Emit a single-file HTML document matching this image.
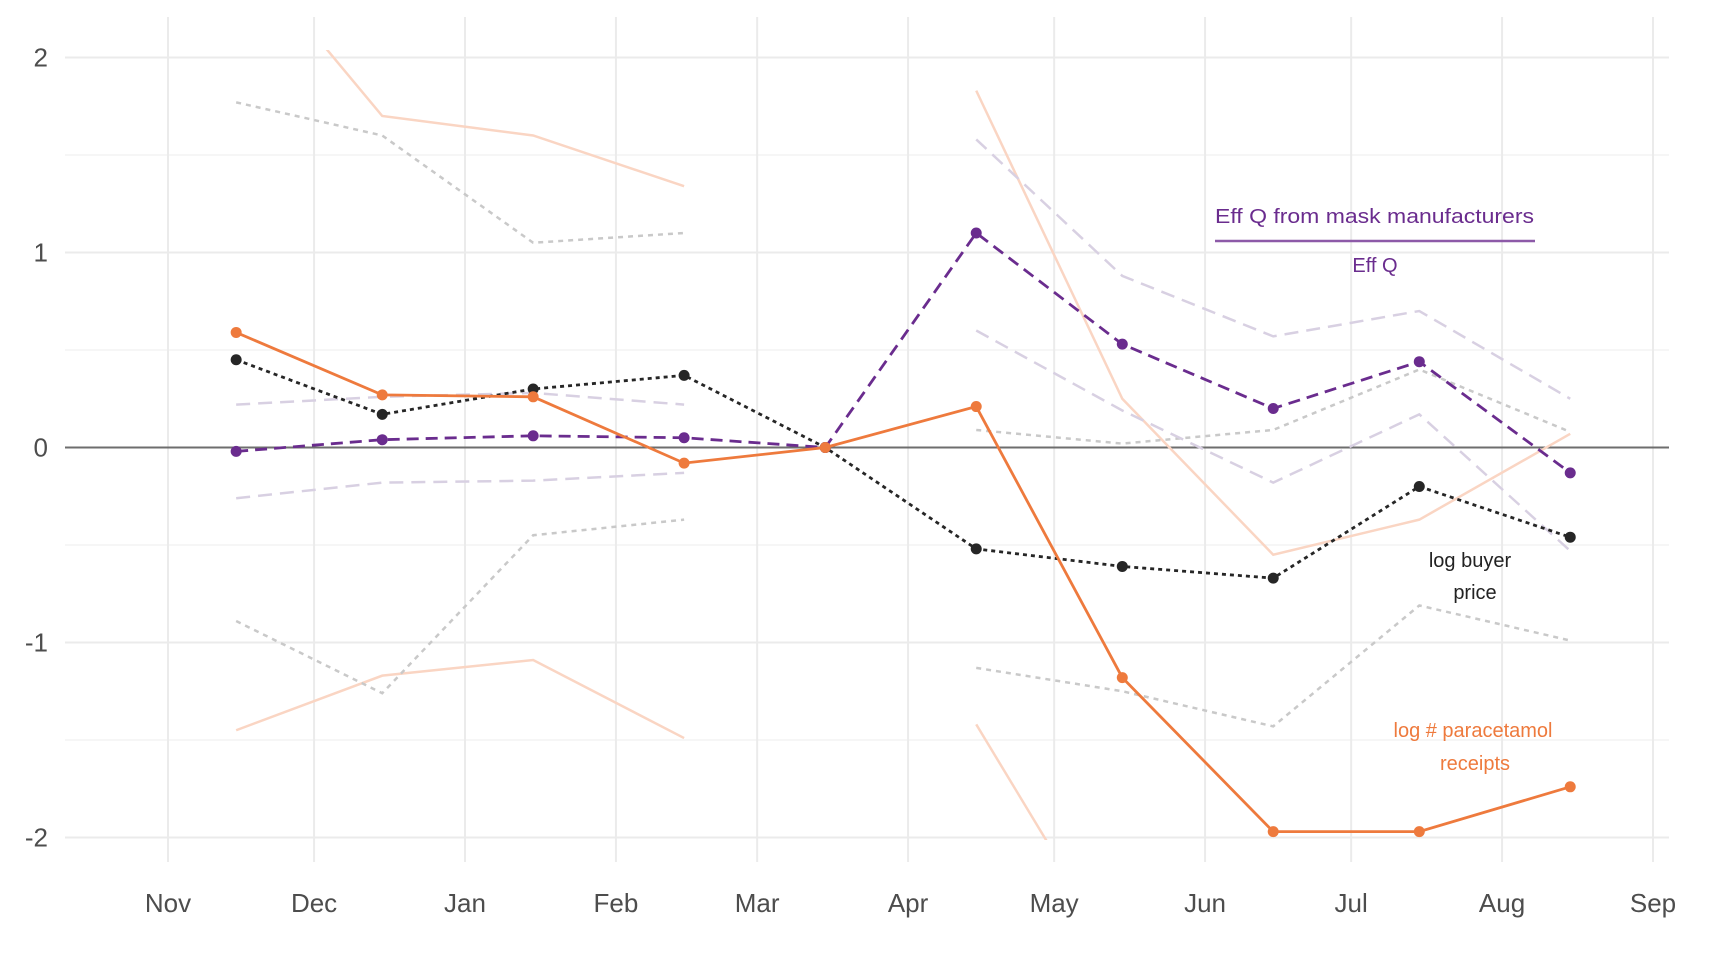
<!DOCTYPE html>
<html><head><meta charset="utf-8"><style>
html,body{margin:0;padding:0;background:#fff;overflow:hidden;width:1727px;height:960px;}
svg{display:block;font-family:"Liberation Sans",sans-serif;}
</style></head><body>
<svg id="chart" width="1727" height="960" viewBox="0 0 1727 960" xmlns="http://www.w3.org/2000/svg">
<defs><clipPath id="plotclip"><rect x="60" y="50" width="1640" height="790"/></clipPath></defs>
<g id="grid"></g>
<g id="axes"></g>
<g id="bands" clip-path="url(#plotclip)"></g>
<g id="series"></g>
<g id="annot">
<text x="1215" y="223" font-size="20" fill="#6a2c8e" textLength="319" lengthAdjust="spacingAndGlyphs">Eff Q from mask manufacturers</text>
<line x1="1215" y1="241" x2="1535" y2="241" stroke="#8d5aa8" stroke-width="2.5"/>
<text x="1375" y="272" font-size="20" fill="#6a2c8e" text-anchor="middle">Eff Q</text>
<text x="1470" y="567" font-size="20" fill="#222" text-anchor="middle">log buyer</text>
<text x="1475" y="599" font-size="20" fill="#222" text-anchor="middle">price</text>
<text x="1473" y="737" font-size="20" fill="#ee7a3d" text-anchor="middle">log # paracetamol</text>
<text x="1475" y="770" font-size="20" fill="#ee7a3d" text-anchor="middle">receipts</text>
</g>
</svg>
<script>
const monthLabels = ["Nov","Dec","Jan","Feb","Mar","Apr","May","Jun","Jul","Aug","Sep"];
const monthDates = ["2019-11-01","2019-12-01","2020-01-01","2020-02-01","2020-03-01","2020-04-01","2020-05-01","2020-06-01","2020-07-01","2020-08-01","2020-09-01"];
const pointDates = ["2019-11-15","2019-12-15","2020-01-15","2020-02-15","2020-03-15","2020-04-15","2020-05-15","2020-06-15","2020-07-15","2020-08-15"];
const yTicks = [2,1,0,-1,-2];
const yMinor = [1.5,0.5,-0.5,-1.5];
const paracetamol = [0.59,0.27,0.26,-0.08,0.0,0.21,-1.18,-1.97,-1.97,-1.74];
const buyerPrice = [0.45,0.17,0.30,0.37,0.0,-0.52,-0.61,-0.67,-0.20,-0.46];
const effQ = [-0.02,0.04,0.06,0.05,0.0,1.10,0.53,0.20,0.44,-0.13];
const paraUpper = [2.6,1.70,1.60,1.34,null,1.83,0.25,-0.55,-0.37,0.07];
const paraLower = [-1.45,-1.17,-1.09,-1.49,null,-1.42,-2.66,-3.5,-3.5,-3.0];
const priceUpper = [1.77,1.60,1.05,1.10,null,0.09,0.02,0.09,0.40,0.08];
const priceLower = [-0.89,-1.26,-0.45,-0.37,null,-1.13,-1.25,-1.43,-0.81,-0.99];
const effUpper = [0.22,0.26,0.28,0.22,null,1.58,0.88,0.57,0.70,0.25];
const effLower = [-0.26,-0.18,-0.17,-0.13,null,0.60,0.19,-0.18,0.17,-0.53];

const NS="http://www.w3.org/2000/svg";
const t0=Date.parse(monthDates[0]), t1=Date.parse(monthDates[monthDates.length-1]);
const X0=168, X1=1653;
function x(d){return X0+(Date.parse(d)-t0)/(t1-t0)*(X1-X0);}
function y(v){return 447.5-195*v;}
function mk(tag,attrs,parent){const e=document.createElementNS(NS,tag);for(const k in attrs)e.setAttribute(k,attrs[k]);parent.appendChild(e);return e;}
const grid=document.getElementById('grid'),axes=document.getElementById('axes'),bands=document.getElementById('bands'),series=document.getElementById('series');

yMinor.forEach(v=>{const l=mk('line',{x1:65,x2:1669,y1:y(v),y2:y(v),stroke:'#f3f3f3','stroke-width':1.5},grid);

});
yTicks.forEach(v=>{const l=mk('line',{x1:65,x2:1669,y1:y(v),y2:y(v),stroke:'#ebebeb','stroke-width':2},grid);


const t=mk('text',{x:48,y:y(v)+9,'font-size':26,fill:'#4d4d4d','text-anchor':'end'},axes);


t.textContent=String(v);});
monthDates.forEach((d,i)=>{const l=mk('line',{x1:x(d),x2:x(d),y1:17,y2:862,stroke:'#ebebeb','stroke-width':2},grid);


const t=mk('text',{x:x(d),y:912,'font-size':26,fill:'#4d4d4d','text-anchor':'middle'},axes);


t.textContent=monthLabels[i];});
const zl=mk('line',{x1:65,x2:1669,y1:y(0),y2:y(0),stroke:'#6e6e6e','stroke-width':2},axes);



function segs(arr){const out=[];let cur=[];arr.forEach((v,i)=>{if(v===null){if(cur.length)out.push(cur);cur=[];}else cur.push([x(pointDates[i]),y(v)]);});if(cur.length)out.push(cur);return out;}
function band(arr,color,dash,name,w){segs(arr).forEach(s=>{const p=mk('polyline',{points:s.map(q=>q.join(',')).join(' '),fill:'none',stroke:color,'stroke-width':w,'stroke-dasharray':dash},bands);

});}
band(paraUpper,'#fad5c3','none','paracetamol-upper-band',2.5);
band(paraLower,'#fad5c3','none','paracetamol-lower-band',2.5);
band(priceUpper,'#c9c9c9','5,5','price-upper-band',2.5);
band(priceLower,'#c9c9c9','5,5','price-lower-band',2.5);
band(effUpper,'#d8d0e2','14,8','effq-upper-band',2.5);
band(effLower,'#d8d0e2','14,8','effq-lower-band',2.5);

function line(arr,color,dash,name){const pts=arr.map((v,i)=>[x(pointDates[i]),y(v)]);
const p=mk('polyline',{points:pts.map(q=>q.join(',')).join(' '),fill:'none',stroke:color,'stroke-width':2.8,'stroke-dasharray':dash},series);


pts.forEach(q=>{const c=mk('circle',{cx:q[0],cy:q[1],r:5.5,fill:color},series);

});}
line(buyerPrice,'#262626','4,4','buyer-price');
line(effQ,'#6a2c8e','12,7','eff-q');
line(paracetamol,'#ee7a3d','none','paracetamol');
</script>
</body></html>
